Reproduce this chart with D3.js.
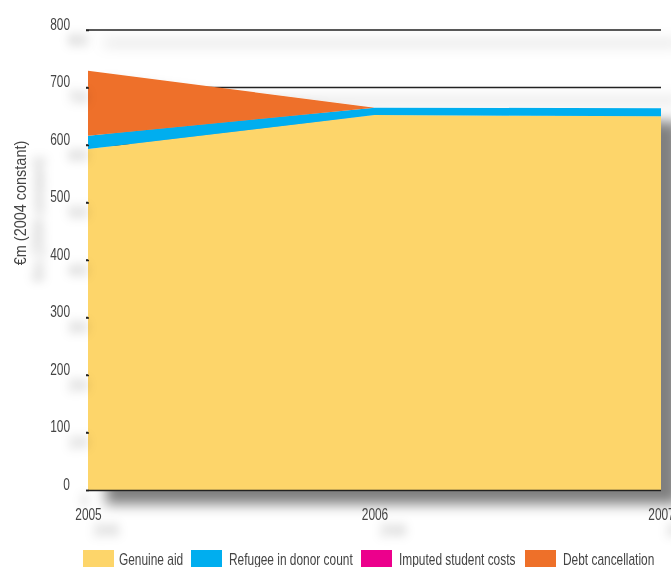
<!DOCTYPE html>
<html>
<head>
<meta charset="utf-8">
<script src="https://cdn.jsdelivr.net/npm/d3@7"></script>
<style>
  body { margin: 0; background: #fff; }
  text { font-family: "Liberation Sans", Arial, sans-serif; fill: #444; }
</style>
</head>
<body>
<div class="chart"></div>
<script>
var svgWidth = 671;
var svgHeight = 567;

// data (EUR m, 2004 constant)
var years = [2005, 2006, 2007];
var genuineAid = [593, 652, 650];
var refugeeCosts = [23, 13, 14];
var studentCosts = [0, 0, 0];
var debtCancellation = [113, 0, 0];
var yTicks = [0, 100, 200, 300, 400, 500, 600, 700, 800];
var seriesNames = ["Genuine aid", "Refugee in donor count", "Imputed student costs", "Debt cancellation"];
var seriesColors = ["#fdd56a", "#00aeef", "#ec008c", "#ee7029"];

var margin = { top: 30, right: 10, bottom: 77, left: 88 };
var width = 573;
var height = svgHeight - margin.top - margin.bottom;

// condensed look: squeeze text horizontally
function condense(sel, k) {
  k = k || 0.7;
  sel.each(function() {
    var w = this.getComputedTextLength();
    d3.select(this)
      .attr("textLength", w * k)
      .attr("lengthAdjust", "spacingAndGlyphs");
  });
}

var svg = d3.select(".chart")
  .append("svg")
  .attr("width", svgWidth)
  .attr("height", svgHeight);

var defs = svg.append("defs");
var shadow = defs.append("filter")
  .attr("id", "shadow")
  .attr("x", "-20%").attr("y", "-20%")
  .attr("width", "150%").attr("height", "150%");
shadow.append("feDropShadow")
  .attr("dx", 18).attr("dy", 13)
  .attr("stdDeviation", 6.5)
  .attr("flood-color", "#000")
  .attr("flood-opacity", 0.5);

var textShadow = defs.append("filter")
  .attr("id", "textShadow")
  .attr("x", "-50%").attr("y", "-50%")
  .attr("width", "250%").attr("height", "250%");
textShadow.append("feDropShadow")
  .attr("dx", 18).attr("dy", 16)
  .attr("stdDeviation", 5)
  .attr("flood-color", "#000")
  .attr("flood-opacity", 0.3);

var chartGroup = svg.append("g")
  .attr("transform", `translate(${margin.left}, ${margin.top})`);

var plotGroup = chartGroup.append("g")
  .attr("filter", "url(#shadow)");

var textGroup = chartGroup.append("g")
  .attr("filter", "url(#textShadow)");

var table = years.map(function(y, i) {
  var row = { year: y };
  row[seriesNames[0]] = genuineAid[i];
  row[seriesNames[1]] = refugeeCosts[i];
  row[seriesNames[2]] = studentCosts[i];
  row[seriesNames[3]] = debtCancellation[i];
  return row;
});

var stacked = d3.stack().keys(seriesNames)(table);

var xScale = d3.scaleLinear()
  .domain([2005, 2007])
  .range([0, width]);

var yScale = d3.scaleLinear()
  .domain([0, 800])
  .range([height, 0]);

// gridlines
plotGroup.append("g")
  .selectAll("line")
  .data(yTicks.filter(d => d > 0))
  .enter()
  .append("line")
  .attr("x1", -2)
  .attr("x2", xScale(2007))
  .attr("y1", d => yScale(d))
  .attr("y2", d => yScale(d))
  .attr("stroke", "#222")
  .attr("stroke-width", 1.4);

// stacked areas
var area = d3.area()
  .x(d => xScale(d.data.year))
  .y0(d => yScale(d[0]))
  .y1(d => yScale(d[1]));

plotGroup.selectAll(".layer")
  .data(stacked)
  .enter()
  .append("path")
  .attr("class", "layer")
  .attr("d", area)
  .attr("fill", (d, i) => seriesColors[i]);

// baseline
plotGroup.append("line")
  .attr("x1", -2)
  .attr("x2", xScale(2007))
  .attr("y1", yScale(0) + 0.5)
  .attr("y2", yScale(0) + 0.5)
  .attr("stroke", "#222")
  .attr("stroke-width", 1.5);

// left axis: short ticks only
var leftAxis = d3.axisLeft(yScale)
  .tickValues(yTicks)
  .tickSize(3)
  .tickPadding(16);

var yAxisG = chartGroup.append("g")
  .attr("transform", "translate(1, 0)")
  .call(leftAxis);
yAxisG.select(".domain").remove();
yAxisG.selectAll(".tick line").attr("stroke", "#222").attr("stroke-width", 1.5);
yAxisG.selectAll(".tick text").remove();

// tick labels drawn separately so they carry the soft text shadow
textGroup.append("g")
  .selectAll("text")
  .data(yTicks)
  .enter()
  .append("text")
  .attr("x", -18)
  .attr("y", d => yScale(d))
  .attr("dy", "-0.02em")
  .attr("text-anchor", "end")
  .style("font-size", "17px")
  .text(d => d)
  .call(condense);

// bottom axis labels
var bottomAxis = d3.axisBottom(xScale)
  .tickValues(years)
  .tickFormat(d3.format("d"))
  .tickSize(0)
  .tickPadding(18);

var xAxisG = textGroup.append("g")
  .attr("transform", `translate(0, ${height})`)
  .call(bottomAxis);
xAxisG.select(".domain").remove();
xAxisG.selectAll(".tick text")
  .style("font-size", "17px")
  .attr("fill", "#444")
  .call(condense);

// y axis title
textGroup.append("text")
  .attr("transform", "rotate(-90)")
  .attr("x", -173)
  .attr("y", -62)
  .attr("text-anchor", "middle")
  .style("font-size", "17px")
  .text("€m (2004 constant)")
  .call(condense, 0.85);

// legend
var legendX = [83, 191, 361, 525];
var legend = svg.append("g");
var items = legend.selectAll("g")
  .data(seriesNames)
  .enter()
  .append("g")
  .attr("transform", (d, i) => `translate(${legendX[i]}, 550)`);

items.append("rect")
  .attr("width", 31)
  .attr("height", 20)
  .attr("fill", (d, i) => seriesColors[i]);

items.append("text")
  .attr("x", (d, i) => i === 0 ? 36 : 38)
  .attr("y", 15)
  .style("font-size", "17px")
  .text(d => d)
  .call(condense);
</script>
</body>
</html>
